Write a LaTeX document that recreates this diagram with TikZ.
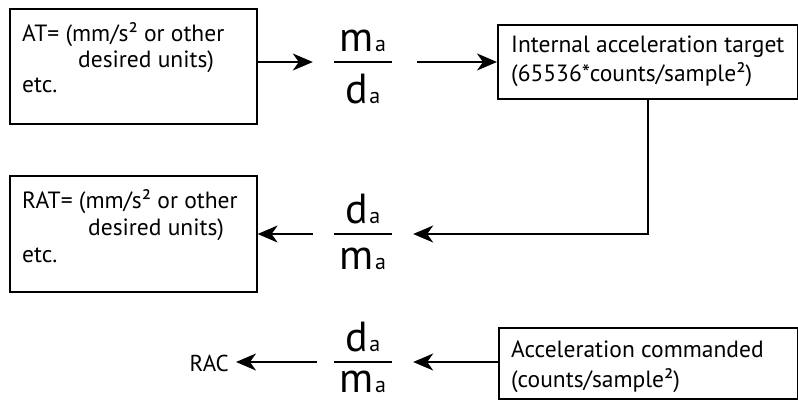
\documentclass[tikz,border=0pt]{standalone}
\usepackage{fontspec}
\setmainfont{PT Sans}
\usetikzlibrary{arrows.meta}
\tikzset{
  box/.style={draw, line width=1.6pt, inner sep=0pt, anchor=north west},
  txt/.style={anchor=base west, inner sep=0pt, font=\fontsize{23.5}{23.5}\selectfont},
  rac/.style={anchor=east, inner sep=0pt, font=\fontsize{23}{23}\selectfont},
  fbar/.style={fill=black, inner sep=0pt, minimum width=58pt, minimum height=2pt},
  fnum/.style={anchor=south, inner sep=0pt, font=\fontsize{42}{42}\selectfont},
  fden/.style={anchor=north, inner sep=0pt, font=\fontsize{42}{42}\selectfont},
  arr/.style={line width=1.5pt, -{Stealth[length=20pt, width=17pt, inset=6pt]}}
}
\newcommand{\subA}[1]{#1\kern1pt{\fontsize{22}{22}\selectfont a}}
\begin{document}
\begin{tikzpicture}[x=1pt, y=-1pt]
\useasboundingbox (0,0) rectangle (798,402);
% boxes
\node[box, minimum width=247pt, minimum height=115pt] (b1) at (9,8) {};
\node[box, minimum width=300pt, minimum height=74pt] (b2) at (497,24) {};
\node[box, minimum width=247pt, minimum height=116pt] (b3) at (9,175) {};
\node[box, minimum width=299pt, minimum height=71pt] (b4) at (498,327) {};
% box texts
\node[txt] (t1a) at (22,41) {AT= (mm/s² or other};
\node[txt] (t1b) at (78,67) {desired units)};
\node[txt] (t1c) at (22,92) {etc.};
\node[txt] (t2a) at (511,52) {Internal acceleration target};
\node[txt] (t2b) at (511,81) {(65536*counts/sample²)};
\node[txt] (t3a) at (22,208) {RAT= (mm/s² or other};
\node[txt] (t3b) at (88,235) {desired units)};
\node[txt] (t3c) at (22,262) {etc.};
\node[txt] (t4a) at (511,357) {Acceleration commanded};
\node[txt] (t4b) at (511,387) {(counts/sample²)};
\node[rac] (rac) at (229,363) {RAC};
% fractions
\node[fbar] (f1) at (363,62) {};
\node[fnum] (f1n) at ([yshift=9pt]f1.north) {\subA{m}};
\node[fden] (f1d) at ([yshift=-11pt]f1.south) {\subA{d}};
\node[fbar] (f2) at (363,234) {};
\node[fnum] (f2n) at ([yshift=9pt]f2.north) {\subA{d}};
\node[fden] (f2d) at ([yshift=-13pt]f2.south) {\subA{m}};
\node[fbar] (f3) at (363,362) {};
\node[fnum] (f3n) at ([yshift=9pt]f3.north) {\subA{d}};
\node[fden] (f3d) at ([yshift=-8pt]f3.south) {\subA{m}};
% connectors
\draw[arr, shorten >=21pt] (b1.east |- f1) -- (f1.west);
\draw[arr, shorten <=25pt] (f1.east) -- (b2.west |- f1);
\draw[arr, shorten >=21pt, line width=1.6pt] (b2.south) |- (f2.east);
\draw[arr, shorten <=21pt] (f2.west) -- (b3.east |- f2);
\draw[arr, shorten >=21pt] (b4.west |- f3) -- (f3.east);
\draw[arr, shorten <=17pt, shorten >=7pt] (f3.west) -- (rac.east |- f3);
\end{tikzpicture}
\end{document}
